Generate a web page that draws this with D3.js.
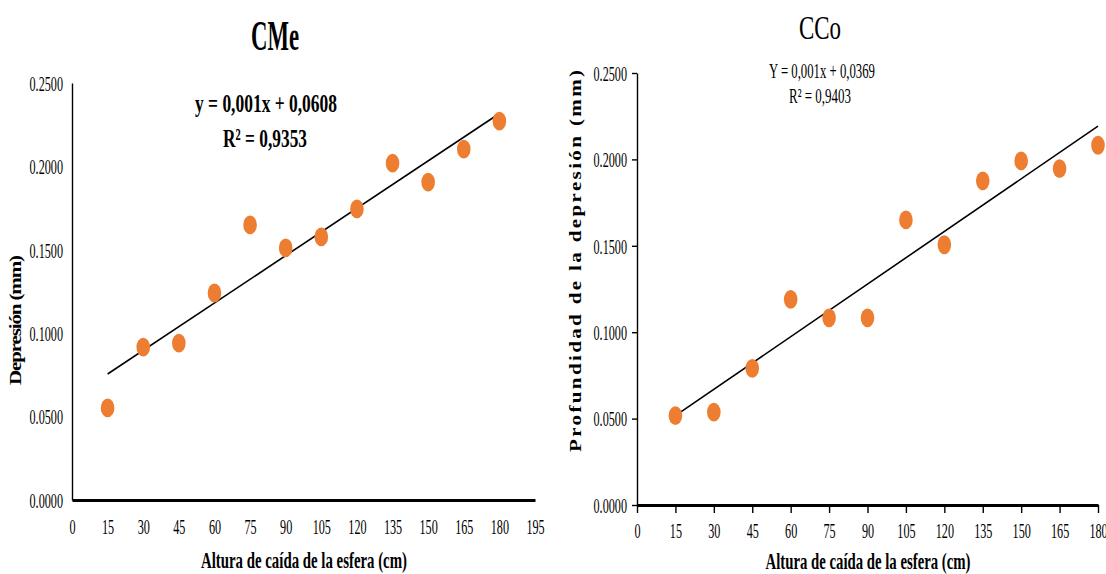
<!DOCTYPE html>
<html>
<head>
<meta charset="utf-8">
<script src="https://cdn.jsdelivr.net/npm/d3@7"></script>
<style>
  html, body { margin: 0; padding: 0; background: #fff; }
  svg { display: block; }
  text { font-family: "Liberation Serif", "DejaVu Serif", serif; fill: #000; }
</style>
</head>
<body>
<svg id="chart" width="1106" height="574"></svg>
<script>
// ---------------- data ----------------
const heights = [15, 30, 45, 60, 75, 90, 105, 120, 135, 150, 165, 180];
const cmeValues = [0.0552, 0.0917, 0.0941, 0.1241, 0.1649, 0.1511, 0.1577, 0.1745, 0.2020, 0.1906, 0.2104, 0.2272];
const ccoValues = [0.0517, 0.0538, 0.0791, 0.1190, 0.1083, 0.1083, 0.1650, 0.1506, 0.1876, 0.1991, 0.1947, 0.2082];
const yTicks = [0, 0.05, 0.10, 0.15, 0.20, 0.25];
const xTicksCMe = [0, 15, 30, 45, 60, 75, 90, 105, 120, 135, 150, 165, 180, 195];
const xTicksCCo = [0, 15, 30, 45, 60, 75, 90, 105, 120, 135, 150, 165, 180];
const titles = ["CMe", "CCo"];
const equations = ["y = 0,001x + 0,0608", "Y = 0,001x + 0,0369"];
const r2Labels = ["R² = 0,9353", "R² = 0,9403"];
const xTitle = "Altura de caída de la esfera (cm)";
const yTitles = ["Depresión (mm)", "Profundidad de la depresión (mm)"];

// ---------------- helpers ----------------
const svg = d3.select("#chart");
const ORANGE = "#ED7D31";

function fit(xs, ys) {
  const mx = d3.mean(xs), my = d3.mean(ys);
  let sxy = 0, sxx = 0;
  xs.forEach((x, i) => { sxy += (x - mx) * (ys[i] - my); sxx += (x - mx) * (x - mx); });
  const b = sxy / sxx;
  return { b, a: my - b * mx };
}

function label(g, o) {
  const t = g.append("text")
    .attr("transform", `translate(${o.x},${o.y})` + (o.rotate ? " rotate(-90)" : "") + (o.sy ? ` scale(1,${o.sy})` : ""))
    .attr("text-anchor", "middle")
    .attr("dominant-baseline", "central")
    .style("font-size", o.size + "px")
    .style("font-weight", o.weight || "normal")
    .text(o.text);
  if (o.len) t.attr("textLength", o.len).attr("lengthAdjust", o.adjust || "spacingAndGlyphs");
  return t;
}

function panel(cfg) {
  const g = svg.append("g");
  const x = d3.scaleLinear().domain(cfg.xDomain).range(cfg.xRange);
  const y = d3.scaleLinear().domain([0, 0.25]).range(cfg.yRange);
  const SX = 0.58;

  // y axis
  const ya = g.append("g").attr("transform", `translate(${cfg.xRange[0]},0)`)
    .call(d3.axisLeft(y).tickValues(yTicks).tickFormat(d3.format(".4f"))
      .tickSize(cfg.yTick).tickSizeOuter(0).tickPadding(0));
  ya.select(".domain").attr("stroke", "#000").attr("stroke-width", 1.4);
  ya.selectAll(".tick line").attr("stroke", "#000").attr("stroke-width", 1.4);
  ya.selectAll(".tick text")
    .attr("x", -cfg.yPad / SX).attr("dy", "0.35em")
    .attr("transform", `scale(${SX},1)`)
    .style("font-size", "21px").style("font-family", "Liberation Serif");

  // x axis
  const xa = g.append("g").attr("transform", `translate(0,${cfg.yRange[0]})`)
    .call(d3.axisBottom(x).tickValues(cfg.xTicks).tickFormat(d3.format("d"))
      .tickSize(cfg.xTick).tickSizeOuter(0).tickPadding(0));
  xa.select(".domain").attr("stroke", "#000").attr("stroke-width", 3);
  xa.selectAll(".tick line").attr("stroke", "#000").attr("stroke-width", 1.4);
  xa.selectAll(".tick text")
    .attr("y", cfg.xPad).attr("dy", "0.35em")
    .attr("transform", `scale(${SX},1)`)
    .attr("x", 0)
    .style("font-size", "21px").style("font-family", "Liberation Serif");

  // trend line
  const f = fit(heights, cfg.values);
  const x0 = d3.min(heights), x1 = d3.max(heights);
  g.append("line")
    .attr("x1", x(x0)).attr("y1", y(f.a + f.b * x0))
    .attr("x2", x(x1)).attr("y2", y(f.a + f.b * x1))
    .attr("stroke", "#000").attr("stroke-width", 1.6);

  // points
  g.selectAll("ellipse.pt").data(heights).enter().append("ellipse")
    .attr("class", "pt")
    .attr("cx", d => x(d)).attr("cy", (d, i) => y(cfg.values[i]))
    .attr("rx", 6.8).attr("ry", 9.4)
    .attr("fill", ORANGE);

  // texts
  label(g, cfg.title);
  label(g, cfg.eq);
  label(g, cfg.r2);
  label(g, cfg.xt);
  label(g, cfg.yt);
}

panel({
  xDomain: [0, 195], xRange: [72, 535], yRange: [500, 83],
  xTicks: xTicksCMe, values: cmeValues,
  yTick: 0, xTick: 0, yPad: 9, xPad: 27,
  title: { x: 275, y: 36, text: titles[0], size: 42, weight: "bold", len: 48 },
  eq: { x: 266, y: 103, text: equations[0], size: 26, weight: "bold", len: 142 },
  r2: { x: 265, y: 138, text: r2Labels[0], size: 26, weight: "bold", len: 84 },
  xt: { x: 304, y: 560, text: xTitle, size: 24, weight: "bold", len: 206 },
  yt: { x: 15.5, y: 320, text: yTitles[0], size: 21, weight: "bold", rotate: true, sy: 0.8, len: 130, adjust: "spacing" }
});

panel({
  xDomain: [0, 180], xRange: [637, 1098], yRange: [505, 73],
  xTicks: xTicksCCo, values: ccoValues,
  yTick: 5, xTick: 8, yPad: 10, xPad: 26,
  title: { x: 820, y: 27, text: titles[1], size: 34, weight: "normal", len: 42 },
  eq: { x: 822, y: 71, text: equations[1], size: 21, weight: "normal", len: 106 },
  r2: { x: 820, y: 96, text: r2Labels[1], size: 21, weight: "normal", len: 62 },
  xt: { x: 868, y: 561, text: xTitle, size: 24, weight: "bold", len: 205 },
  yt: { x: 575, y: 261, text: yTitles[1], size: 21, weight: "bold", rotate: true, sy: 0.8, len: 382, adjust: "spacing" }
});
</script>
</body>
</html>
